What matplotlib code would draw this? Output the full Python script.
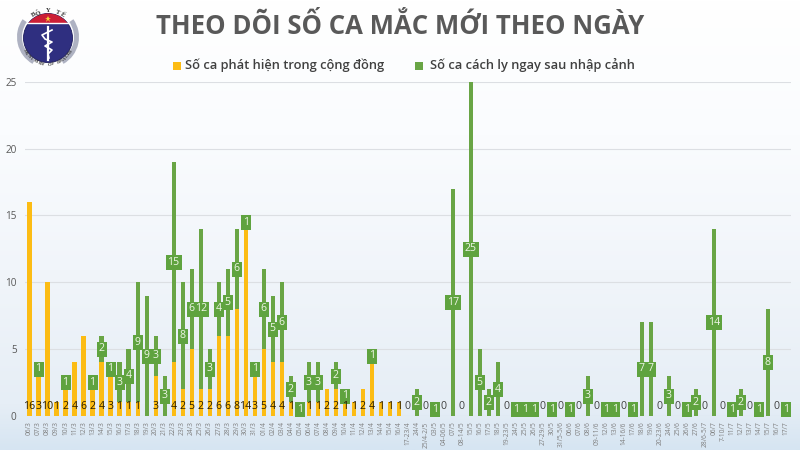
import matplotlib
matplotlib.use('Agg')
import matplotlib.pyplot as plt
import numpy as np
from matplotlib.colors import LinearSegmentedColormap
from matplotlib.patches import Circle, Rectangle, Wedge
from matplotlib.path import Path

plt.rcParams['font.family'] = ['Open Sans', 'DejaVu Sans']

days = ['06/3', '07/3', '08/3', '09/3', '10/3', '11/3', '12/3', '13/3', '14/3', '15/3',
        '16/3', '17/3', '18/3', '19/3', '20/3', '21/3', '22/3', '23/3', '24/3', '25/3',
        '26/3', '27/3', '28/3', '29/3', '30/3', '31/3', '01/4', '02/4', '03/4', '04/4',
        '05/4', '06/4', '07/4', '08/4', '09/4', '10/4', '11/4', '12/4', '13/4', '14/4',
        '15/4', '16/4', '17-23/4', '24/4', '25/4-2/5', '03/5', '04-06/5', '07/5', '08-14/5', '15/5',
        '16/5', '17/5', '18/5', '19-23/5', '24/5', '25/5', '26/5', '27-29/5', '30/5', '31/5-5/6',
        '06/6', '07/6', '08/6', '09-11/6', '12/6', '13/6', '14-16/6', '17/6', '18/6', '19/6',
        '20-23/6', '24/6', '25/6', '26/6', '27/6', '28/6-5/7', '06/7', '7-10/7', '11/7', '12/7',
        '13/7', '14/7', '15/7', '16/7', '17/7']

community = [16, 3, 10, 1, 2, 4, 6, 2, 4, 3,
             1, 1, 1, 0, 3, 0, 4, 2, 5, 2,
             2, 6, 6, 8, 14, 3, 5, 4, 4, 1,
             0, 1, 1, 2, 2, 1, 1, 2, 4, 1,
             1, 1, 0, 0, 0, 0, 0, 0, 0, 0,
             0, 0, 0, 0, 0, 0, 0, 0, 0, 0,
             0, 0, 0, 0, 0, 0, 0, 0, 0, 0,
             0, 0, 0, 0, 0, 0, 0, 0, 0, 0,
             0, 0, 0, 0, 0]

quarantine = [0, 1, 0, 0, 1, 0, 0, 1, 2, 1,
              3, 4, 9, 9, 3, 3, 15, 8, 6, 12,
              3, 4, 5, 6, 1, 1, 6, 5, 6, 2,
              1, 3, 3, 0, 2, 1, 0, 0, 1, 0,
              0, 0, 0, 2, 0, 1, 0, 17, 0, 25,
              5, 2, 4, 0, 1, 1, 1, 0, 1, 0,
              1, 0, 3, 0, 1, 1, 0, 1, 7, 7,
              0, 3, 0, 1, 2, 0, 14, 0, 1, 2,
              0, 1, 8, 0, 1]

yticks = [0, 5, 10, 15, 20, 25]

YELLOW = '#fcbc14'
GREEN = '#69a545'
BOX_GREEN = '#5fa33f'

x = np.arange(len(days))
community = np.array(community)
quarantine = np.array(quarantine)

fig = plt.figure(figsize=(8, 4.5), dpi=100)

# background + logo live in an axes in pixel coords
bg = fig.add_axes([0, 0, 1, 1], zorder=0)
cmap = LinearSegmentedColormap.from_list('bg', [(0, '#ffffff'), (0.3, '#fafcfe'), (0.6, '#f1f5fa'),
                                                (0.9, '#e6eef6'), (1, '#d6e5f2')])
bg.imshow(np.linspace(0, 1, 256).reshape(-1, 1), cmap=cmap, aspect='auto', extent=[0, 800, 450, 0])
bg.set_xlim(0, 800)
bg.set_ylim(450, 0)
bg.axis('off')

cx, cy = 48, 37
bg.add_patch(Wedge((cx, cy), 31, 325, 60, width=5, fc='#aeb2c2', ec='none'))
bg.add_patch(Wedge((cx, cy), 31, 120, 215, width=5, fc='#aeb2c2', ec='none'))
disc = Circle((cx, cy + 1), 24.5, fc='#2f2f80', ec='#1d1d5c', lw=0.6)
bg.add_patch(disc)
cap = Rectangle((cx - 25, cy - 25), 50, 11, fc='#cc1f36', ec='none')
bg.add_patch(cap)
cap.set_clip_path(disc)
bg.plot([cx - 21, cx + 21], [cy - 14, cy - 14], color='white', lw=1)
bg.plot(cx, cy - 18.5, marker='*', color='#f7d23c', ms=4.5, mew=0)
bg.plot([cx, cx], [cy - 10, cy + 23], color='white', lw=1.6)
bg.plot([cx + 4, cx - 6, cx - 3, cx + 4, cx - 3, cx + 4, cx, cx + 1],
        [cy - 7, cy - 2, cy + 2, cy + 5, cy + 9, cy + 13, cy + 17, cy + 21], color='white', lw=1.2)
for ch, ang in zip('BỘ Y TẾ', np.linspace(-33, 33, 7)):
    r = np.radians(ang)
    bg.text(cx + 26.5 * np.sin(r), cy - 26.5 * np.cos(r), ch, fontsize=4.8, fontweight='bold', color='#333333',
            rotation=-ang, ha='center', va='center', family='Liberation Serif')
for ch, ang in zip('MINISTRY OF HEALTH', np.linspace(-58, 58, 18)):
    r = np.radians(ang)
    bg.text(cx + 27.5 * np.sin(r), cy + 27.5 * np.cos(r), ch, fontsize=3.4, fontweight='bold', color='#333333',
            rotation=ang, ha='center', va='center', family='Liberation Serif')

ax = fig.add_axes([25 / 800, 1 - 415.7 / 450, 765.5 / 800, 333.7 / 450], zorder=1)
ax.patch.set_alpha(0)

ax.bar(x, community, width=0.46, color=YELLOW, zorder=2)
ax.bar(x, quarantine, width=0.46, bottom=community, color=GREEN, zorder=2)

# label boxes for the green series, fixed pixel size like the excel data labels
small_box = Path([(-5, -7.5), (5, -7.5), (5, 7.5), (-5, 7.5), (-5, -7.5)], closed=True)
wide_box = Path([(-8, -7.5), (8, -7.5), (8, 7.5), (-8, 7.5), (-8, -7.5)], closed=True)
mids = community + quarantine / 2
one = (quarantine > 0) & (quarantine < 10)
two = quarantine >= 10
ax.plot(x[one], mids[one], ls='', marker=small_box, ms=15 * 0.72, color=BOX_GREEN, mew=0, zorder=3, clip_on=False)
ax.plot(x[two], mids[two], ls='', marker=wide_box, ms=16 * 0.72, color=BOX_GREEN, mew=0, zorder=3, clip_on=False)

for i in x:
    if quarantine[i] > 0:
        ax.text(i, mids[i], str(quarantine[i]), color='#eef6e6', fontsize=7.6, ha='center', va='center', zorder=4)
    if community[i] > 0:
        ax.text(i, 0.68, str(community[i]), color='#2b1d00', fontsize=7.6, ha='center', va='center', zorder=4)
    elif quarantine[i] == 0:
        ax.text(i, 0.68, '0', color='#404040', fontsize=7.6, ha='center', va='center', zorder=4)

ax.set_xlim(-0.5, len(days) - 0.5)
ax.set_ylim(0, 25)
ax.set_xticks(x)
ax.set_xticklabels(days, rotation=90, fontsize=4.8, color='#7f7f7f')
ax.set_yticks(yticks)
ax.tick_params(axis='both', length=0)
ax.tick_params(axis='x', pad=4)
ax.tick_params(axis='y', pad=6, labelsize=7.2, labelcolor='#595959')
ax.grid(axis='y', color='#dcdfe3', lw=0.8, zorder=0)
ax.set_axisbelow(True)
for s in ax.spines.values():
    s.set_visible(False)

# title and legend
fig.text(400 / 800, 1 - 26 / 450, 'THEO DÕI SỐ CA MẮC MỚI THEO NGÀY', fontsize=18.5, fontweight='bold',
         color='#595959', ha='center', va='center')
fig.patches.append(Rectangle((173 / 800, 1 - 69.5 / 450), 8 / 800, 8 / 450, transform=fig.transFigure, fc=YELLOW, ec='none'))
fig.text(185 / 800, 1 - 65 / 450, 'Số ca phát hiện trong cộng đồng', fontsize=9.25, fontweight='semibold',
         color='#404040', ha='left', va='center')
fig.patches.append(Rectangle((415 / 800, 1 - 69.5 / 450), 8 / 800, 8 / 450, transform=fig.transFigure, fc=GREEN, ec='none'))
fig.text(430 / 800, 1 - 65 / 450, 'Số ca cách ly ngay sau nhập cảnh', fontsize=9.25, fontweight='semibold',
         color='#404040', ha='left', va='center')

plt.savefig('out.png', dpi=100)
plt.close()
